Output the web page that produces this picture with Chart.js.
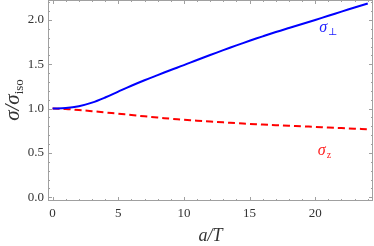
<!DOCTYPE html>
<html>
<head>
<meta charset="utf-8">
<script src="https://cdn.jsdelivr.net/npm/chart.js@4"></script>
<style>
  body { margin: 0; background: #fff; }
  #wrap { width: 374px; height: 246px; position: relative; }
</style>
</head>
<body>
<div id="wrap"><canvas id="sigmaChart"></canvas></div>
<script>
// values
const aOverT = [0, 1, 2, 3, 4, 5, 6, 7, 8, 9, 10, 11, 12, 13, 14, 15, 16, 17, 18, 19, 20, 21, 22, 23, 24];
const sigmaPerp = [1.0, 1.006, 1.027, 1.067, 1.125, 1.192, 1.258, 1.32, 1.378, 1.435, 1.49, 1.548, 1.604, 1.659, 1.713, 1.765, 1.815, 1.864, 1.91, 1.955, 2.0, 2.047, 2.094, 2.14, 2.185];
const sigmaZ = [1.0, 0.995, 0.984, 0.971, 0.957, 0.943, 0.928, 0.913, 0.899, 0.886, 0.874, 0.864, 0.854, 0.845, 0.836, 0.828, 0.82, 0.813, 0.806, 0.8, 0.794, 0.787, 0.781, 0.774, 0.768];

const serif = '"Liberation Serif", "DejaVu Serif", serif';

function pts(xs, ys) {
  return xs.map((x, i) => ({ x: x, y: ys[i] }));
}

// mathematica-like frame: inward major/minor ticks on all four sides, plus labels
const framePlugin = {
  id: 'frame',
  afterDraw(chart) {
    const ctx = chart.ctx;
    const a = chart.chartArea;
    const xs = chart.scales.x, ys = chart.scales.y;
    ctx.save();
    ctx.strokeStyle = '#a0a0a0';
    ctx.lineWidth = 1;
    ctx.strokeRect(a.left + 0.5, a.top + 0.5, a.right - a.left - 1, a.bottom - a.top - 1);
    ctx.beginPath();
    for (let v = 0; v <= 24; v += 1) {
      const px = Math.round(xs.getPixelForValue(v)) + 0.5;
      const len = v % 5 === 0 ? 4 : 2;
      ctx.moveTo(px, a.bottom); ctx.lineTo(px, a.bottom - len);
      ctx.moveTo(px, a.top); ctx.lineTo(px, a.top + len);
    }
    for (let i = 0; i <= 22; i++) {
      const v = i / 10;
      const py = Math.round(ys.getPixelForValue(v)) + 0.5;
      const len = i % 5 === 0 ? 4 : 2;
      ctx.moveTo(a.left, py); ctx.lineTo(a.left + len, py);
      ctx.moveTo(a.right, py); ctx.lineTo(a.right - len, py);
    }
    ctx.stroke();

    // curve labels
    function sub(main, s, x, y, color) {
      ctx.fillStyle = color;
      ctx.textBaseline = 'alphabetic';
      ctx.textAlign = 'left';
      ctx.font = 'italic 16px ' + serif;
      ctx.fillText(main, x, y);
      const w = ctx.measureText(main).width;
      ctx.font = '10px ' + serif;
      ctx.fillText(s, x + w + 1, y + 3);
    }
    sub('σ', '⊥', xs.getPixelForValue(20.3), ys.getPixelForValue(1.86), '#2020ff');
    sub('σ', 'z', xs.getPixelForValue(20.2), ys.getPixelForValue(0.48), '#ff2020');

    // axis titles
    ctx.fillStyle = '#333';
    ctx.font = 'italic 18px ' + serif;
    ctx.textAlign = 'center';
    ctx.fillText('a/T', (a.left + a.right) / 2, 241);

    ctx.translate(19, 100);
    ctx.rotate(-Math.PI / 2);
    ctx.textAlign = 'left';
    ctx.font = 'italic 21px ' + serif;
    const t1 = 'σ/σ';
    const w1 = ctx.measureText(t1).width;
    ctx.font = '13px ' + serif;
    const w2 = ctx.measureText('iso').width;
    const x0 = -(w1 + w2) / 2;
    ctx.font = 'italic 21px ' + serif;
    ctx.fillText(t1, x0, 0);
    ctx.font = '13px ' + serif;
    ctx.fillText('iso', x0 + w1, 4);
    ctx.restore();
  }
};

new Chart(document.getElementById('sigmaChart'), {
  type: 'line',
  data: {
    datasets: [{
      label: 'sigma_perp',
      data: pts(aOverT, sigmaPerp),
      borderColor: '#0000ff',
      borderWidth: 2,
      pointRadius: 0,
      tension: 0.35
    }, {
      label: 'sigma_z',
      data: pts(aOverT, sigmaZ),
      borderColor: '#ff0000',
      borderWidth: 2,
      borderDash: [7, 4],
      pointRadius: 0,
      tension: 0.35
    }]
  },
  options: {
    responsive: true,
    maintainAspectRatio: false,
    animation: false,
    layout: { padding: { top: 0, right: 1, left: 0, bottom: 0 } },
    plugins: {
      legend: { display: false },
      tooltip: { enabled: false }
    },
    scales: {
      x: {
        type: 'linear',
        min: -0.35,
        max: 24.4,
        grid: { display: false, drawTicks: false },
        border: { display: false },
        ticks: {
          stepSize: 5,
          includeBounds: false,
          padding: 5,
          color: '#333',
          font: { family: serif, size: 13 }
        },
        afterFit(scale) {
          scale.height = 45;
          scale.paddingLeft = 0;
          scale.paddingRight = 0;
        }
      },
      y: {
        min: -0.042,
        max: 2.225,
        grid: { display: false, drawTicks: false },
        border: { display: false },
        ticks: {
          stepSize: 0.5,
          includeBounds: false,
          padding: 4,
          color: '#333',
          font: { family: serif, size: 13 },
          callback: v => v.toFixed(1)
        },
        afterFit(scale) {
          scale.width = 48;
          scale.paddingTop = 0;
          scale.paddingBottom = 0;
        }
      }
    }
  },
  plugins: [framePlugin]
});
</script>
</body>
</html>
